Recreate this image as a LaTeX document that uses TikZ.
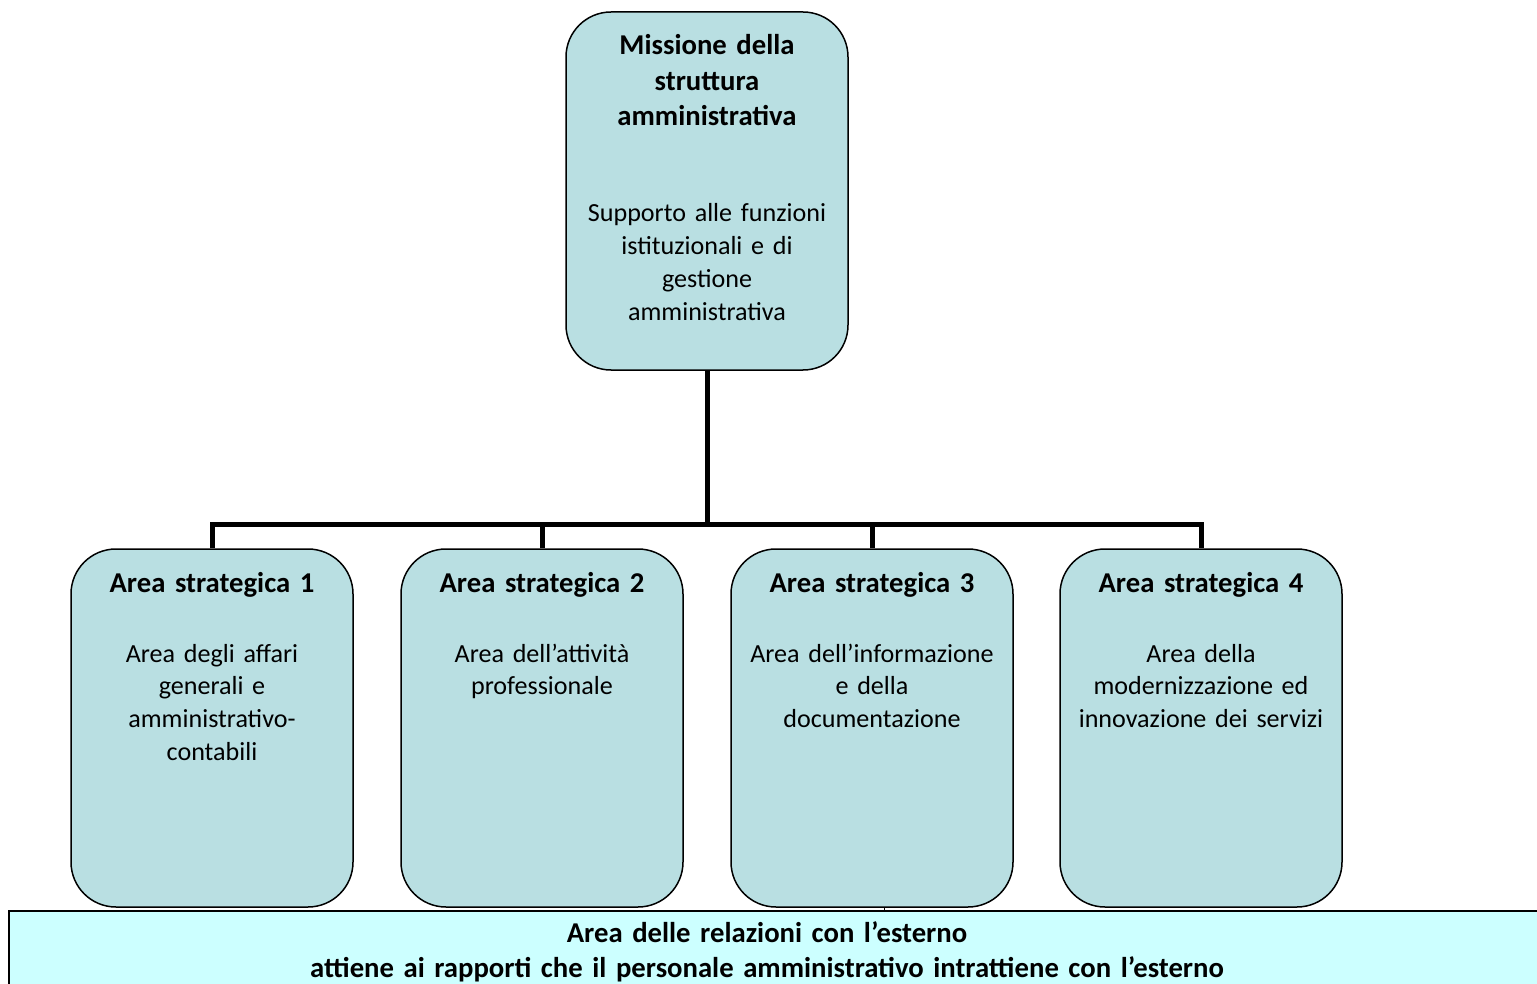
\documentclass[tikz,border=0pt]{standalone}
\usepackage{fontspec}
\setmainfont{Carlito}
\usetikzlibrary{positioning}
\definecolor{boxfill}{RGB}{185,223,226}
\definecolor{relfill}{RGB}{204,255,255}
\tikzset{
  areabox/.style={
    draw=black, line width=1.5pt, fill=boxfill,
    rounded corners=45pt, inner sep=0pt,
    minimum width=282pt, minimum height=358pt
  },
  relbox/.style={
    draw=black, line width=2pt, fill=relfill, inner sep=0pt,
    minimum width=1560pt, minimum height=100pt
  },
  titletext/.style={
    font=\fontsize{28.7}{35.5}\selectfont\bfseries,
    text width=280pt, align=center, inner sep=0pt, anchor=base
  },
  bodytext/.style={
    font=\fontsize{26.1}{32.7}\selectfont,
    text width=280pt, align=center, inner sep=0pt, anchor=base
  },
  tree/.style={line width=5pt}
}

\begin{document}
\begin{tikzpicture}[x=1pt, y=-1pt]
  \useasboundingbox (0,0) rectangle (1537,984);

  % ── Mission box ───────────────────────────────────────────────────
  \node[areabox] (mission) at (707,191) {};
  \node[titletext] (missiontitle) at (707,55)
    {Missione della\\struttura\\amministrativa};
  \node[bodytext] (missionbody) at (707,222)
    {Supporto alle funzioni\\istituzionali e di\\gestione\\amministrativa};

  % ── Strategic areas ───────────────────────────────────────────────
  \foreach \i/\cx/\txt in {
      1/212/{Area degli affari\\generali e\\amministrativo-\\contabili},
      2/542/{Area dell’attività\\professionale},
      3/872/{Area dell’informazione\\e della\\documentazione},
      4/1201/{Area della\\modernizzazione ed\\innovazione dei servizi}}
    {
      \node[areabox] (area\i) at (\cx,728) {};
      \node[titletext] (areatitle\i) at (\cx,592) {Area strategica \i};
      \node[bodytext] (areabody\i) at (\cx,662) {\txt};
    }

  % ── Tree lines ────────────────────────────────────────────────────
  \coordinate (bus) at (707,524);
  \draw[tree] (mission.south) -- (mission.south |- bus);
  \draw[tree] (area1.north) -- (area1.north |- bus)
              -- (area4.north |- bus) -- (area4.north);
  \foreach \i in {2,3}
    { \draw[tree] (area\i.north) -- (area\i.north |- bus); }

  % ── External relations ────────────────────────────────────────────
  \node[relbox, anchor=north west] (rel) at (8,910) {};
  \node[titletext, text width=1500pt] (reltitle) at (767,942)
    {Area delle relazioni con l’esterno\\attiene ai rapporti che il personale amministrativo intrattiene con l’esterno};
  \draw[line width=0.6pt] ([xshift=12pt]area3.south) -- ([xshift=12pt]area3.south |- rel.north);
\end{tikzpicture}
\end{document}
